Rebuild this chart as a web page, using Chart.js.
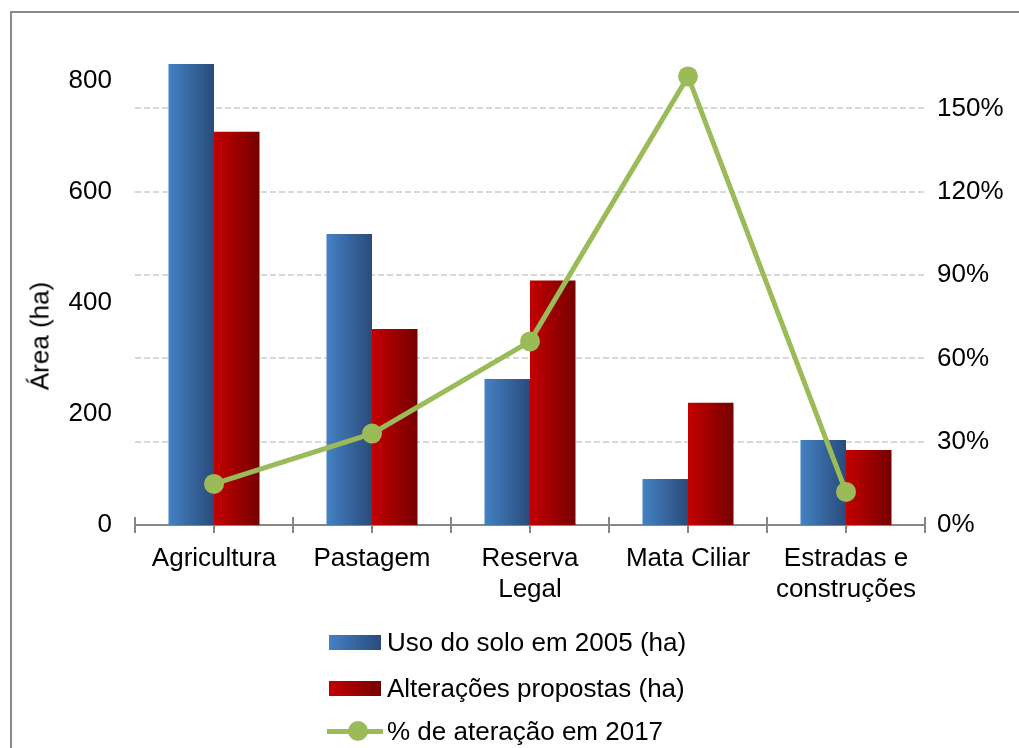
<!DOCTYPE html>
<html>
<head>
<meta charset="utf-8">
<script src="https://cdn.jsdelivr.net/npm/chart.js@4"></script>
<style>
  body { margin: 0; background: #fff; font-family: "Liberation Sans", Arial, sans-serif; }
  #wrap { position: relative; width: 1019px; height: 748px; overflow: hidden; }
  #frame { position: absolute; left: 10px; top: 11px; width: 1100px; height: 800px;
           border-top: 2px solid #8a8a8a; border-left: 2px solid #8a8a8a; }
  #box { position: absolute; left: 0; top: 0; width: 1019px; height: 748px; }
  #ytitle { position: absolute; left: 40px; top: 336px; transform: translate(-50%, -50%) rotate(-90deg);
            font-size: 26px; color: #000; white-space: nowrap; }
  .leg { position: absolute; left: 327px; height: 30px; font-size: 26px; color: #000; white-space: nowrap; }
  .leg .sw { position: absolute; left: 2px; top: 8px; width: 52px; height: 15px; }
  .leg .txt { position: absolute; left: 60px; top: 0; line-height: 30px; }
  .leg .ln { position: absolute; left: 0; top: 13px; width: 56px; height: 5px; background: #9bbb59; }
  .leg .dot { position: absolute; left: 21px; top: 5px; width: 20px; height: 20px; border-radius: 50%; background: #9bbb59; }
</style>
</head>
<body>
<div id="wrap">
  <div id="frame"></div>
  <div id="box"><canvas id="grafico"></canvas></div>
  <div id="ytitle">Área (ha)</div>
  <div id="legenda"></div>
</div>
<script>
// dados do grafico
var categorias = [["Agricultura"], ["Pastagem"], ["Reserva", "Legal"], ["Mata Ciliar"], ["Estradas e", "construções"]];
var usoSolo2005 = [830, 524, 263, 83, 153];
var alteracoesPropostas = [708, 353, 440, 220, 135];
var percAlteracao2017 = [14.8, 32.9, 66.1, 161.5, 11.9];
var nomesSeries = ["Uso do solo em 2005 (ha)", "Alterações propostas (ha)", "% de ateração em 2017"];

var gradCores = [["#4581c4", "#294b7a"], ["#c40000", "#760000"]];
var verde = "#9bbb59";

// gradiente horizontal em cada barra (datasets 1 e 2 sao as barras)
var gradientePlugin = {
    id: 'gradiente',
    beforeDatasetDraw: function(chart, args) {
        var idx = args.index - 1;
        if (idx < 0 || idx > 1) return;
        var ctx = chart.ctx;
        args.meta.data.forEach(function(bar) {
            if (!isFinite(bar.x) || !isFinite(bar.width)) return;
            var g = ctx.createLinearGradient(bar.x - bar.width / 2, 0, bar.x + bar.width / 2, 0);
            g.addColorStop(0, gradCores[idx][0]);
            g.addColorStop(1, gradCores[idx][1]);
            // as opcoes podem ser compartilhadas entre barras, entao cria um objeto proprio
            var op = Object.create(bar.options);
            op.backgroundColor = g;
            bar.options = op;
        });
    }
};

// marcas do eixo x (cruzando o eixo nas divisas e no centro das categorias)
var marcasPlugin = {
    id: 'marcas',
    afterDraw: function(chart) {
        var ctx = chart.ctx;
        var x = chart.scales.x;
        var y0 = chart.chartArea.bottom;
        var passo = (x.right - x.left) / categorias.length;
        ctx.save();
        ctx.strokeStyle = "#868686";
        ctx.lineWidth = 2;
        ctx.beginPath();
        for (var i = 0; i <= categorias.length; i++) {
            var px = Math.round(x.left + passo * i);
            ctx.moveTo(px, y0 - 8);
            ctx.lineTo(px, y0);
        }
        for (var i = 0; i < categorias.length; i++) {
            var pc = Math.round(x.getPixelForValue(i));
            ctx.moveTo(pc, y0);
            ctx.lineTo(pc, y0 + 8);
        }
        ctx.stroke();
        ctx.restore();
    }
};

var fonte = { family: "'Liberation Sans', Arial, sans-serif", size: 26 };

// tira o espaco extra que o chart.js reserva para os rotulos nas pontas do eixo
function semPadding(s) { s.paddingTop = 0; s.paddingBottom = 0; }

var grafico = new Chart(document.getElementById("grafico"), {
    type: 'bar',
    data: {
        labels: categorias,
        datasets: [
            { type: 'line', label: nomesSeries[2], data: percAlteracao2017, yAxisID: 'y2', order: 0,
              borderColor: verde, backgroundColor: verde, borderWidth: 5, tension: 0,
              pointRadius: 10, pointBackgroundColor: verde, pointBorderWidth: 0 },
            { label: nomesSeries[0], data: usoSolo2005, yAxisID: 'y', order: 1,
              backgroundColor: gradCores[0][0], barPercentage: 1, categoryPercentage: 0.576 },
            { label: nomesSeries[1], data: alteracoesPropostas, yAxisID: 'y', order: 1,
              backgroundColor: gradCores[1][0], barPercentage: 1, categoryPercentage: 0.576 }
        ]
    },
    options: {
        responsive: true,
        maintainAspectRatio: false,
        animation: false,
        layout: { padding: { top: 25, left: 0, right: 0, bottom: 0 } },
        plugins: { legend: { display: false }, tooltip: { enabled: false } },
        scales: {
            x: {
                offset: true,
                grid: { offset: true, drawOnChartArea: false, drawTicks: true, tickLength: 8, color: "#868686", lineWidth: 2 },
                border: { display: true, color: "#868686", width: 2 },
                ticks: { color: "#000", font: fonte, padding: 10, maxRotation: 0, autoSkip: false },
                afterFit: function(s) { s.height = 223; }
            },
            y: {
                position: 'left',
                min: 0, max: 900,
                grid: { display: false },
                border: { display: false },
                ticks: { stepSize: 200, includeBounds: false, color: "#000", font: fonte, padding: 15 },
                afterFit: function(s) { s.width = 135; semPadding(s); }
            },
            y2: {
                position: 'right',
                min: 0, max: 180,
                grid: { drawTicks: false, lineWidth: 2,
                        color: function(c) { return c.tick && c.tick.value === 0 ? 'rgba(0,0,0,0)' : "#d9d9d9"; } },
                border: { display: false, dash: [6, 3] },
                ticks: { stepSize: 30, color: "#000", font: fonte, padding: 12,
                         callback: function(v) { return v + '%'; } },
                afterBuildTicks: function(s) { s.ticks = s.ticks.filter(function(t) { return t.value < 179; }); },
                afterFit: function(s) { s.width = 94; semPadding(s); }
            }
        }
    },
    plugins: [gradientePlugin, marcasPlugin]
});

// legenda em html, uma serie por linha
var legHtml = '';
var topos = [627, 673, 716];
for (var i = 0; i < nomesSeries.length; i++) {
    var marca;
    if (i < 2) {
        marca = '<div class="sw" style="background: linear-gradient(to right, ' + gradCores[i][0] + ', ' + gradCores[i][1] + ');"></div>';
    } else {
        marca = '<div class="ln"></div><div class="dot"></div>';
    }
    legHtml += '<div class="leg" style="top:' + topos[i] + 'px">' + marca + '<div class="txt">' + nomesSeries[i] + '</div></div>';
}
document.getElementById("legenda").innerHTML = legHtml;
</script>
</body>
</html>
